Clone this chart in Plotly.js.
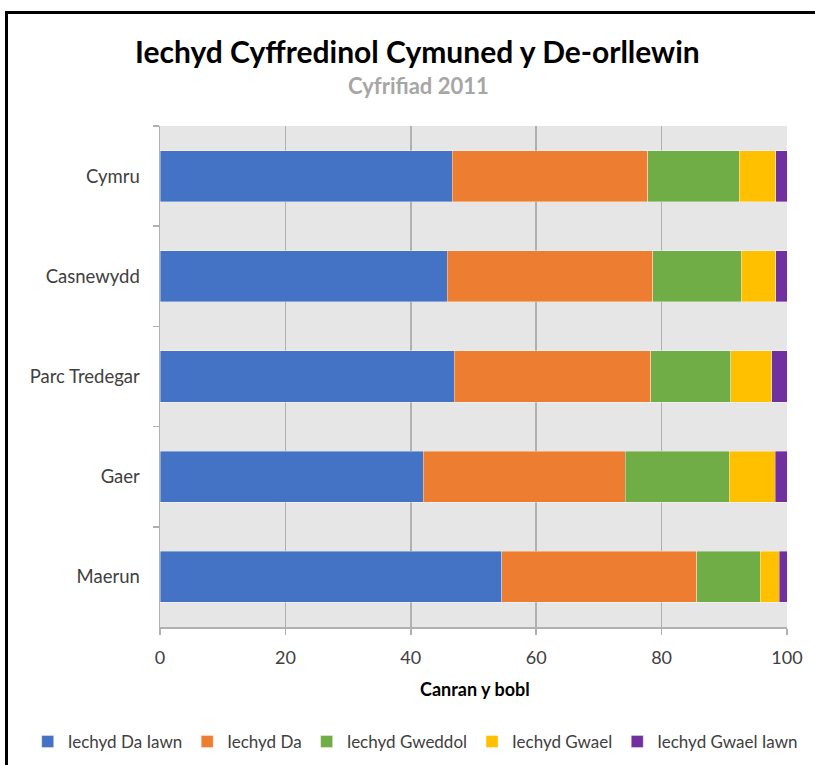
<!DOCTYPE html>
<html>
<head>
<meta charset="utf-8">
<script src="https://cdn.plot.ly/plotly-3.0.1.min.js"></script>
<style>
  html, body { margin: 0; padding: 0; overflow: hidden; background: #fff; }
  #chart { position: absolute; left: 0; top: 0; width: 815px; height: 765px; }
  #frame { position: absolute; left: 5px; top: 11px; width: 900px; height: 900px;
           border: 3px solid #000; pointer-events: none; }
</style>
</head>
<body>
<div id="chart"></div>
<div id="frame"></div>
<script>
const categories = ["Cymru", "Casnewydd", "Parc Tredegar", "Gaer", "Maerun"];
const seriesNames = ["Iechyd Da Iawn", "Iechyd Da", "Iechyd Gweddol", "Iechyd Gwael", "Iechyd Gwael Iawn"];
const daIawn    = [46.6, 45.8, 46.9, 42.0, 54.5];
const da        = [31.2, 32.8, 31.4, 32.2, 31.1];
const gweddol   = [14.6, 14.1, 12.7, 16.6, 10.1];
const gwael     = [5.8, 5.5, 6.6, 7.3, 3.1];
const gwaelIawn = [1.8, 1.8, 2.4, 1.9, 1.2];
const xTicks = [0, 20, 40, 60, 80, 100];

const seriesValues = [daIawn, da, gweddol, gwael, gwaelIawn];
const colors = ["#4472C4", "#ED7D31", "#70AD47", "#FFC000", "#7030A0"];

const font = "Lato, 'Open Sans', sans-serif";

const traces = seriesValues.map((vals, i) => ({
  type: "bar",
  orientation: "h",
  name: seriesNames[i],
  x: vals,
  y: categories,
  marker: { color: colors[i], line: { color: "rgba(255,255,255,0.45)", width: 0.8 } },
  hoverinfo: "x+name"
}));

const layout = {
  width: 815, height: 765,
  margin: { l: 160, r: 28, t: 126, b: 138, autoexpand: false },
  paper_bgcolor: "#ffffff",
  plot_bgcolor: "#E6E6E6",
  barmode: "stack",
  bargap: 0.49,
  font: { family: font, color: "#404040", size: 16 },
  showlegend: true,
  legend: {
    orientation: "h", x: -0.211, xanchor: "left", y: -0.2295, yanchor: "middle",
    font: { family: font, size: 17, color: "#404040" },
    traceorder: "normal", itemwidth: 30
  },
  xaxis: {
    range: [0, 100], tickvals: xTicks, ticktext: xTicks.map(String),
    showgrid: true, gridcolor: "#b0b0b0", gridwidth: 1.5,
    zeroline: false, showline: true, linecolor: "#b0b0b0", linewidth: 1.5,
    ticks: "outside", ticklen: 6, tickcolor: "#b0b0b0", tickwidth: 1.5,
    ticklabelstandoff: 8, automargin: false,
    tickfont: { family: font, size: 18, color: "#404040" },
    fixedrange: true
  },
  yaxis: {
    categoryorder: "array", categoryarray: categories, autorange: "reversed",
    showgrid: false, zeroline: false, showline: true, linecolor: "#b0b0b0", linewidth: 1.5,
    ticks: "outside", ticklen: 6, tickcolor: "#b0b0b0", tickwidth: 1.5,
    tickson: "boundaries", ticklabelstandoff: 15, automargin: false,
    tickfont: { family: font, size: 18.5, color: "#404040" },
    fixedrange: true
  },
  annotations: [
    { text: "<b>Iechyd Cyffredinol Cymuned y De-orllewin</b>", xref: "paper", yref: "paper",
      x: 0.41, y: 1.15, xanchor: "center", yanchor: "middle", showarrow: false,
      font: { family: font, size: 30, color: "#000000" } },
    { text: "<b>Cyfrifiad 2011</b>", xref: "paper", yref: "paper",
      x: 0.412, y: 1.08, xanchor: "center", yanchor: "middle", showarrow: false,
      font: { family: font, size: 22, color: "#A6A6A6" } },
    { text: "<b>Canran y bobl</b>", xref: "paper", yref: "paper",
      x: 0.502, y: -0.124, xanchor: "center", yanchor: "middle", showarrow: false,
      font: { family: font, size: 18, color: "#000000" } }
  ]
};

Plotly.newPlot("chart", traces, layout, { displayModeBar: false, staticPlot: true });
</script>
</body>
</html>
